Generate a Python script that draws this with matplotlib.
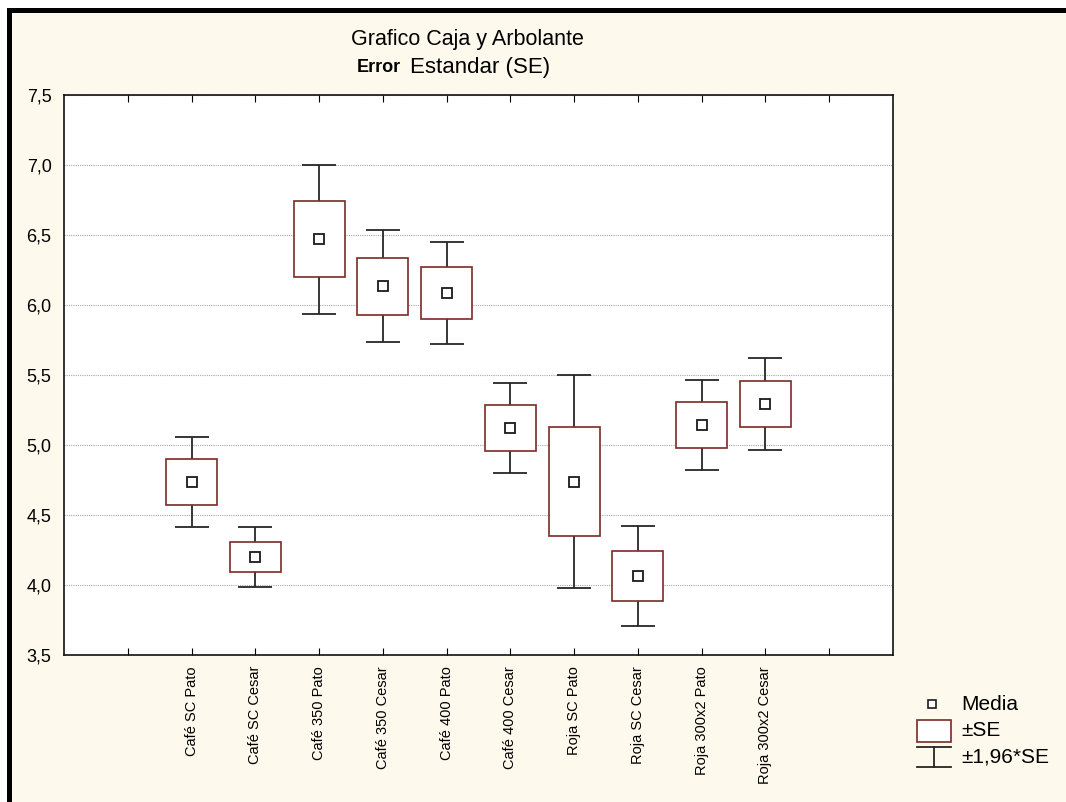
import matplotlib.pyplot as plt
from matplotlib.patches import Rectangle
from matplotlib.lines import Line2D
from matplotlib.ticker import FuncFormatter
import numpy as np

# grupos y estadisticos (media, error estandar)
grupos = ['Café SC Pato', 'Café SC Cesar', 'Café 350 Pato', 'Café 350 Cesar',
          'Café 400 Pato', 'Café 400 Cesar', 'Roja SC Pato', 'Roja SC Cesar',
          'Roja 300x2 Pato', 'Roja 300x2 Cesar']
medias = [4.735, 4.20, 6.47, 6.133, 6.087, 5.122, 4.739, 4.064, 5.144, 5.293]
se = [0.163, 0.11, 0.272, 0.204, 0.187, 0.165, 0.387, 0.181, 0.163, 0.167]
yticks = [3.5, 4.0, 4.5, 5.0, 5.5, 6.0, 6.5, 7.0, 7.5]

medias = np.array(medias)
se = np.array(se)

W, H = 1066, 802
fig = plt.figure(figsize=(W / 100, H / 100), dpi=100, facecolor='white')
plt.rcParams['font.family'] = ['Liberation Sans', 'DejaVu Sans']


def fx(px):
    return px / W


def fy(py):
    return 1 - py / H


# fondo crema y marco negro (arriba e izquierda)
fig.add_artist(Rectangle((fx(7), 0), 1 - fx(7), fy(8), transform=fig.transFigure,
                         facecolor='#fef9ed', edgecolor='none', zorder=-10))
fig.add_artist(Rectangle((fx(7), 0), fx(12) - fx(7), fy(8), transform=fig.transFigure,
                         facecolor='black', edgecolor='none', zorder=-9))
fig.add_artist(Rectangle((fx(7), fy(13)), 1 - fx(7), fy(8) - fy(13), transform=fig.transFigure,
                         facecolor='black', edgecolor='none', zorder=-9))

ax = fig.add_axes([fx(64), fy(655), fx(893) - fx(64), fy(95) - fy(655)])
ax.set_facecolor('white')

x = np.arange(2, 2 + len(grupos))

# bigotes +-1.96*SE
ax.errorbar(x, medias, yerr=1.96 * se, fmt='none', ecolor='#262626',
            elinewidth=1.3, capsize=12.5, capthick=1.3, zorder=2)
# cajas +-SE
ax.bar(x, 2 * se, bottom=medias - se, width=0.8, color='white',
       edgecolor='#7a2a25', linewidth=1.2, zorder=3)
# medias
ax.plot(x, medias, 's', ms=7, mfc='white', mec='#1a1a1a', mew=1.3, zorder=4)

ax.set_xlim(0, len(grupos) + 3)
ax.set_ylim(3.5, 7.5)
ax.set_yticks(yticks)
ax.yaxis.set_major_formatter(FuncFormatter(lambda v, p: f'{v:.1f}'.replace('.', ',')))
ax.set_xticks(np.arange(1, len(grupos) + 3))
ax.set_xticklabels([''] + grupos + [''], rotation=90)

ax.set_axisbelow(True)
ax.yaxis.grid(True, linestyle=(0, (1, 1)), color='#a8a8a8', linewidth=0.8)
ax.tick_params(axis='x', direction='in', length=5, top=True, labelsize=10.5, pad=8)
ax.tick_params(axis='y', length=0, pad=9, labelsize=13)
for s in ax.spines.values():
    s.set_linewidth(1.2)
    s.set_color('#111111')

# titulo
fig.text(fx(467), fy(39), 'Grafico Caja y Arbolante', ha='center', va='center',
         fontsize=15.5)
fig.text(fx(401), fy(68), 'Error', ha='right', va='center', fontsize=13, weight='bold')
fig.text(fx(410), fy(68), 'Estandar (SE)', ha='left', va='center', fontsize=16)

# leyenda
fig.add_artist(Line2D([fx(932)], [fy(704)], marker='s', ms=6, mfc='white', mec='#1a1a1a',
                      mew=1.2, transform=fig.transFigure))
fig.add_artist(Rectangle((fx(917), fy(742)), fx(951) - fx(917), fy(720) - fy(742),
                         transform=fig.transFigure, facecolor='white',
                         edgecolor='#7a2a25', linewidth=1.2))
for yy in (747, 767):
    fig.add_artist(Line2D([fx(917), fx(951)], [fy(yy), fy(yy)], color='#262626',
                          linewidth=1.3, transform=fig.transFigure))
fig.add_artist(Line2D([fx(934), fx(934)], [fy(747), fy(767)], color='#262626',
                      linewidth=1.3, transform=fig.transFigure))
for texto, yy in (('Media', 704), ('±SE', 730), ('±1,96*SE', 757)):
    fig.text(fx(961), fy(yy), texto, ha='left', va='center', fontsize=15)

fig.savefig('out.png', dpi=100, facecolor=fig.get_facecolor())
